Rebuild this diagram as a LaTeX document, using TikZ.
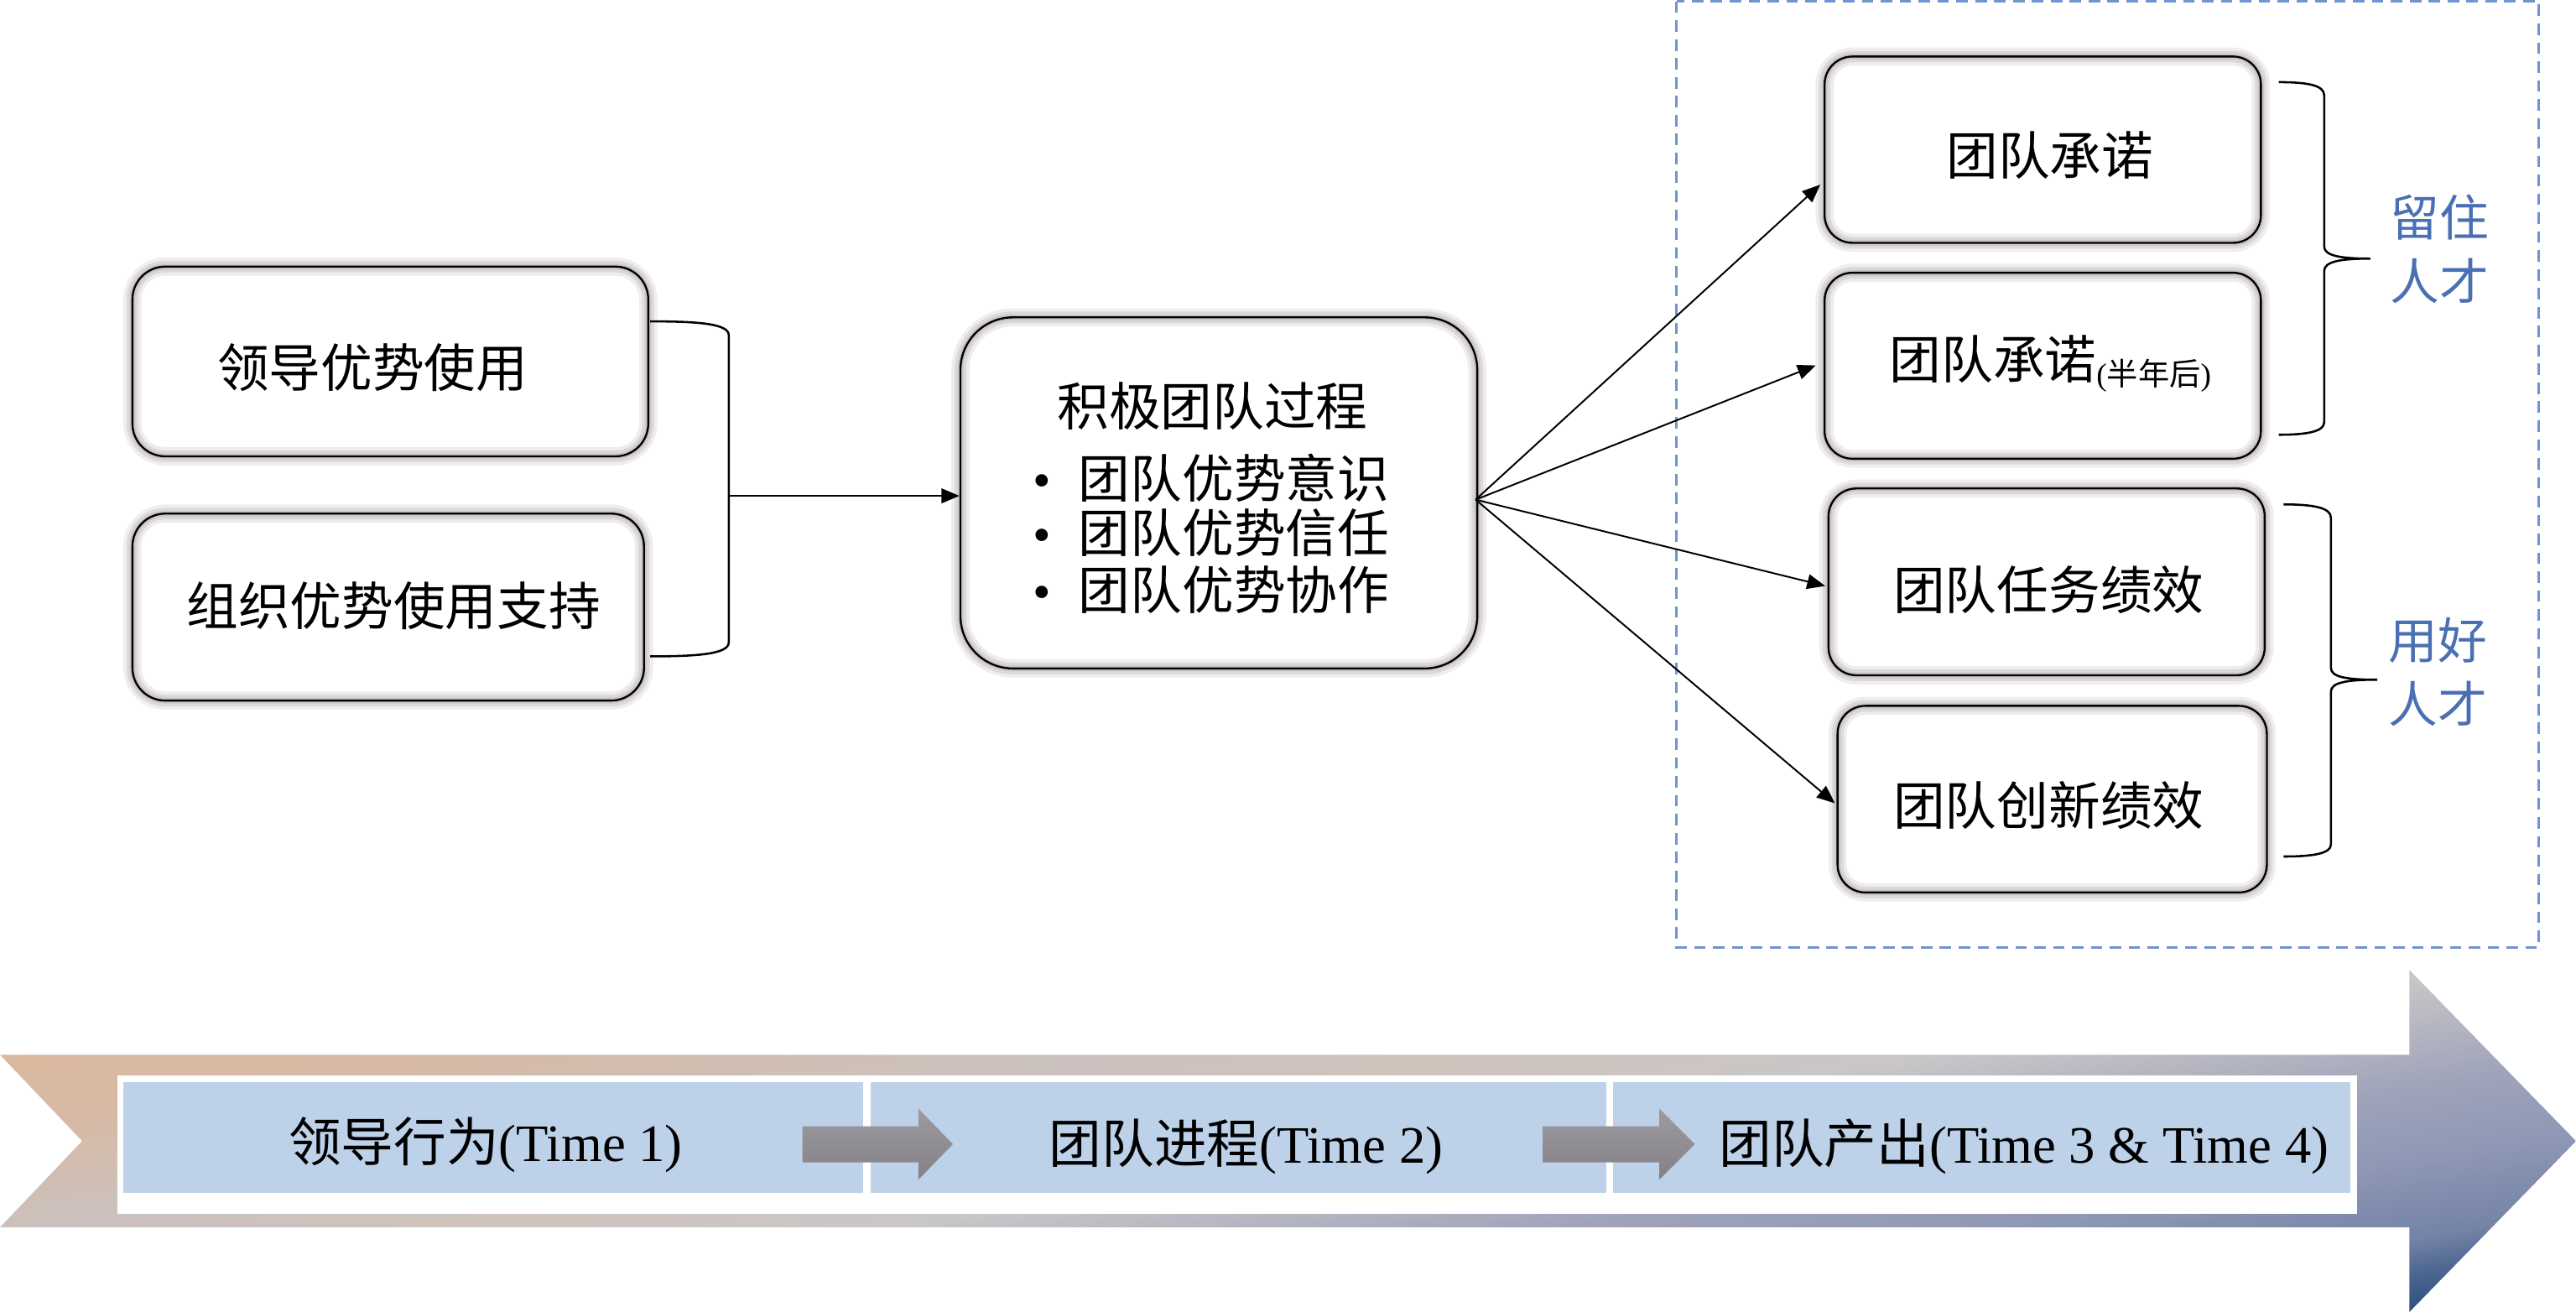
\documentclass[tikz,border=0pt]{standalone}
\usepackage{fontspec}
\setmainfont{Liberation Serif}
\newfontfamily\cjk{Noto Sans CJK SC}
\usetikzlibrary{arrows.meta,calc}

\definecolor{glowgray}{HTML}{B4AEAC}
\definecolor{dashblue}{HTML}{7094CF}
\definecolor{lblblue}{HTML}{4A70B3}
\definecolor{cellblue}{HTML}{BDD1E9}
\definecolor{grayA}{HTML}{9D9B9F}
\definecolor{grayB}{HTML}{838187}
\definecolor{ba0}{HTML}{1C4474}
\definecolor{ba1}{HTML}{254E7A}
\definecolor{ba2}{HTML}{4F6892}
\definecolor{ba3}{HTML}{7483A6}
\definecolor{ba4}{HTML}{8E97B5}
\definecolor{ba5}{HTML}{A0A4BA}
\definecolor{ba6}{HTML}{C9C6C8}
\definecolor{ba7}{HTML}{CFC3BC}
\definecolor{ba8}{HTML}{CBC1BE}
\definecolor{ba9}{HTML}{D6BAA6}
\definecolor{ba10}{HTML}{DAB89D}
\definecolor{ba11}{HTML}{DDB595}

\pgfdeclareverticalshading{bigarrowshade}{100bp}{color(0bp)=(ba0); color(25bp)=(ba0); color(33.5bp)=(ba1); color(35.5bp)=(ba2); color(37bp)=(ba3); color(40.5bp)=(ba4); color(44bp)=(ba5); color(49bp)=(ba6); color(52.5bp)=(ba7); color(55.5bp)=(ba8); color(60bp)=(ba9); color(64bp)=(ba10); color(75bp)=(ba11); color(100bp)=(ba11)}

\begin{document}
\begin{tikzpicture}[x=1pt,y=-1pt,
  box/.style={draw=black, line width=1.2pt, inner sep=0pt, rounded corners=17pt,
    preaction={fill=white},
    preaction={draw=glowgray, line width=11pt, opacity=0.22},
    preaction={draw=glowgray, line width=7pt, opacity=0.32},
    preaction={draw=glowgray, line width=3.5pt, opacity=0.45}},
  txt/.style={font=\cjk\fontsize{31.5}{38}\selectfont, inner sep=0pt},
  btxt/.style={font=\fontsize{32}{38}\selectfont, inner sep=0pt},
  lbl/.style={font=\cjk\fontsize{30}{39}\selectfont, text=lblblue, align=center, inner sep=0pt},
  arr/.style={line width=1pt, -{Triangle[length=11pt,width=9pt]}},
  brk/.style={line width=1.3pt},
  dashbox/.style={draw=dashblue, line width=1.4pt, dash pattern=on 7pt off 4.5pt}
]
\useasboundingbox (0,0) rectangle (1568,798.5);

% dashed output region
\draw[dashbox] (1020.4,0.9) rectangle (1545.4,576.6);

% boxes
\node[box, rounded corners=20pt, minimum width=314pt, minimum height=115.5pt] (L1) at (237.6,220) {};
\node[box, rounded corners=20pt, minimum width=311.4pt, minimum height=113.8pt] (L2) at (236.3,369.5) {};
\node[box, rounded corners=32pt, minimum width=314.6pt, minimum height=213.7pt] (M) at (741.9,300) {};
\node[box, minimum width=265.6pt, minimum height=113.4pt] (R1) at (1243.4,91.1) {};
\node[box, minimum width=265.6pt, minimum height=113.2pt] (R2) at (1243.4,222.6) {};
\node[box, minimum width=265.5pt, minimum height=113.7pt] (R3) at (1245.75,354.15) {};
\node[box, minimum width=261.3pt, minimum height=113.6pt] (R4) at (1249.15,486.4) {};

% box texts
\node[txt] (L1t) at (226.8,223.5) {领导优势使用};
\node[txt] (L2t) at (239.6,368.6) {组织优势使用支持};
\node[txt] (Mt) at (738,247) {积极团队过程};
\node[txt, anchor=west] (Mb1) at (628.5,290.7) {\makebox[27.9pt][l]{\rmfamily •}团队优势意识};
\node[txt, anchor=west] (Mb2) at (628.5,324.3) {\makebox[27.9pt][l]{\rmfamily •}团队优势信任};
\node[txt, anchor=west] (Mb3) at (628.5,358.8) {\makebox[27.9pt][l]{\rmfamily •}团队优势协作};
\node[txt] (R1t) at (1247.8,94.5) {团队承诺};
\node[txt] (R2t) at (1248,221.5) {团队承诺\raisebox{-4pt}{\fontsize{19}{19}\selectfont\rmfamily(\cjk 半年后\rmfamily)}};
\node[txt] (R3t) at (1247,359) {团队任务绩效};
\node[txt] (R4t) at (1247,490) {团队创新绩效};
\node[lbl] (keep) at (1485,151.5) {留住\\人才};
\node[lbl] (use) at (1484,409) {用好\\人才};

% left bracket and arrow into the process box
\coordinate (lbt) at (395.8,195.6);
\coordinate (lbb) at (395.8,399.5);
\coordinate (lbm) at (443.6,301.8);
\draw[brk] (lbt) .. controls (425,195.6) and (443.6,197) .. (443.6,204) -- (443.6,391) .. controls (443.6,398) and (425,399.5) .. (lbb);
\draw[arr] (lbm) -- (lbm -| M.west);

% fan of arrows
\coordinate (fan) at ($(M.east)+(-1.6,4.1)$);
\draw[arr] (fan) -- ($(R1.west)+(-2,21.3)$);
\draw[arr] (fan) -- ($(R2.west)+(-4.8,-0.2)$);
\draw[arr] (fan) -- ($(R3.west)+(-1.4,2.5)$);
\draw[arr] (fan) -- ($(R4.west)+(-1,2.5)$);

% right braces
\coordinate (b1t) at (1387,50);
\coordinate (b1b) at (1387,264.6);
\coordinate (b2t) at (1390,307);
\coordinate (b2b) at (1390,521.3);
\draw[brk] (b1t) .. controls (1405,50) and (1414.7,52) .. (1414.7,58) -- (1414.7,150)
  .. controls (1414.7,155.5) and (1424,157.4) .. (1442.8,157.4)
  .. controls (1424,157.4) and (1414.7,159.3) .. (1414.7,165) -- (1414.7,257)
  .. controls (1414.7,262.5) and (1405,264.6) .. (b1b);
\draw[brk] (b2t) .. controls (1408,307) and (1418.8,309) .. (1418.8,315) -- (1418.8,406.5)
  .. controls (1418.8,412) and (1428,413.7) .. (1447,413.7)
  .. controls (1428,413.7) and (1418.8,415.5) .. (1418.8,421) -- (1418.8,514)
  .. controls (1418.8,519.5) and (1408,521.3) .. (b2b);

% big timeline arrow with a slightly tilted gradient
\begin{scope}
  \clip (0,642) -- (1466.6,642) -- (1466.6,590.4) -- (1568,694.5) -- (1466.6,798.5) -- (1466.6,747) -- (0,747) -- (50,694.5) -- cycle;
  \begin{scope}[transform canvas={rotate around={9.37:(784,694.45)}}]
    \shade[shading=bigarrowshade] (-36,366.95) rectangle (1604,1021.95);
  \end{scope}
\end{scope}
\fill[white] (71.6,654.6) rectangle (1434.6,738.8);
\fill[cellblue] (75,658.4) rectangle (525.6,726);
\fill[cellblue] (530,658.4) rectangle (978,726);
\fill[cellblue] (982,658.4) rectangle (1430.6,726);

% small gray arrows
\shade[top color=grayA, bottom color=grayB] (488.4,685.5) -- (559,685.5) -- (559,674.7) -- (580,696.4) -- (559,718) -- (559,707.4) -- (488.4,707.4) -- cycle;
\shade[top color=grayA, bottom color=grayB] (939.2,685.5) -- (1010,685.5) -- (1010,674.7) -- (1031.6,696.4) -- (1010,718) -- (1010,707.4) -- (939.2,707.4) -- cycle;

% timeline texts
\node[btxt] (T1) at (295.6,697) {{\cjk 领导行为}(Time 1)};
\node[btxt] (T2) at (758.5,698) {{\cjk 团队进程}(Time 2)};
\node[btxt] (T3) at (1232,698) {{\cjk 团队产出}(Time 3 \& Time 4)};
\end{tikzpicture}
\end{document}
